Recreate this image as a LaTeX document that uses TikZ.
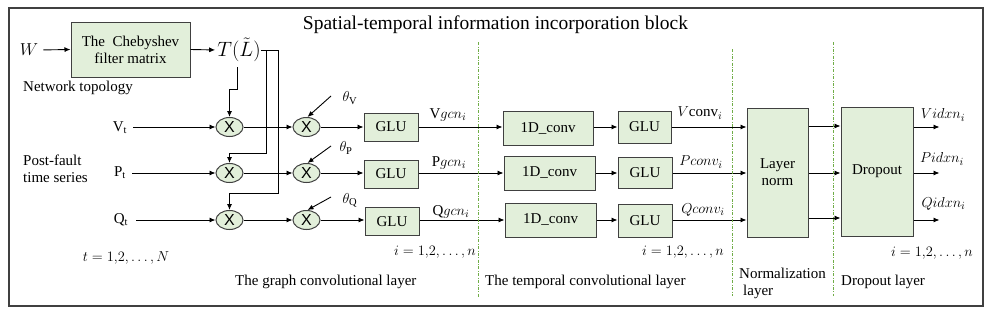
\documentclass[tikz,border=0pt]{standalone}
\usepackage{fontspec}
\setmainfont{Liberation Serif}
\newfontfamily\xsans{Liberation Sans}
\usetikzlibrary{arrows.meta,shapes.geometric}
\definecolor{bgreen}{HTML}{E2EFDA}
\definecolor{bline}{HTML}{404040}
\definecolor{divgreen}{HTML}{70AD47}
\begin{document}
\begin{tikzpicture}[x=1pt,y=-1pt,font=\fontsize{15}{17}\selectfont]
\tikzset{
 blk/.style={draw=bline, fill=bgreen, line width=1pt, inner sep=0pt, align=center},
 mul/.style={ellipse, draw=bline, fill=bgreen, line width=1pt, minimum width=27pt, minimum height=19pt, inner sep=0pt, font=\xsans\fontsize{16}{16}\selectfont},
 arr/.style={-{Latex[length=6pt,width=5pt]}, line width=0.9pt},
 divl/.style={draw=divgreen, line width=0.6pt, dash pattern=on 3pt off 1.5pt on 0.8pt off 1.5pt},
 lbl/.style={inner sep=0pt},
}
\useasboundingbox (0,0) rectangle (992,316);
\draw[bline, line width=1.3pt] (9,8) rectangle (983,306);
\coordinate (yV) at (0,127);
\coordinate (yP) at (0,173);
\coordinate (yQ) at (0,220);

\node[lbl, font=\fontsize{19.5}{22}\selectfont] (title) at (495.5,25) {Spatial-temporal information incorporation block};

% input part
\node[blk, minimum width=119pt, minimum height=55pt] (cheb) at (130.5,49.5) {The\ \ Chebyshev\\filter matrix};
\node[lbl, font=\fontsize{17}{17}\selectfont] (W) at (29,50) {$W$};
\node[lbl, font=\fontsize{20}{20}\selectfont] (T) at (239,50) {$T(\tilde{L})$};
\node[lbl, anchor=west] (net) at (23,88) {Network topology};
\draw[arr, shorten <=5pt] (W.east) -- (cheb.west);
\draw[arr, shorten >=2pt] (cheb.east) -- (T.west);

\node[lbl] (Vt) at (120,128) {V$_{\mathrm{t}}$};
\node[lbl] (Pt) at (120,173) {P$_{\mathrm{t}}$};
\node[lbl] (Qt) at (121,220) {Q$_{\mathrm{t}}$};
\node[lbl, anchor=west, align=left] (pf) at (23,169) {Post-fault\\time series};

\node[mul] (mV1) at (229.5,127) {X};
\node[mul] (mP1) at (229.5,173) {X};
\node[mul] (mQ1) at (229.5,220) {X};
\node[mul] (mV2) at (306.5,127) {X};
\node[mul] (mP2) at (306.5,173) {X};
\node[mul] (mQ2) at (306.5,220) {X};

\draw[arr, shorten <=6pt] (Vt.east |- yV) -- (mV1.west);
\draw[arr, shorten <=6pt] (Pt.east |- yP) -- (mP1.west);
\draw[arr, shorten <=8pt] (Qt.east |- yQ) -- (mQ1.west);

% T connections
\coordinate (tA) at (237,67);
\coordinate (tAb) at (237,89);
\draw[arr] (tA) -- (tAb) -| (mV1.north);
\coordinate (tB) at (278,193);
\draw[arr] (T.east) -| (tB) -| (mQ1.north);
\coordinate (tC) at (266,50);
\coordinate (tCb) at (266,153);
\draw[arr] (tC) -- (tCb) -| (mP1.north);

\draw[arr] (mV1.east) -- (mV2.west);
\draw[arr] (mP1.east) -- (mP2.west);
\draw[arr] (mQ1.east) -- (mQ2.west);

% thetas
\node[lbl] (thV) at (350,98) {$\theta_{\mathrm{V}}$};
\node[lbl] (thP) at (346,148) {$\theta_{\mathrm{P}}$};
\node[lbl] (thQ) at (350,200) {$\theta_{\mathrm{Q}}$};
\coordinate (sV) at (331,96);
\coordinate (sP) at (331,146);
\coordinate (sQ) at (331,197);
\draw[arr] (sV) -- ([xshift=1pt]mV2.north);
\draw[arr] (sP) -- ([xshift=1pt]mP2.north);
\draw[arr] (sQ) -- ([xshift=1pt]mQ2.north);

% GLU1
\node[blk, minimum width=54pt, minimum height=28pt] (gV1) at (391,127) {GLU};
\node[blk, minimum width=54pt, minimum height=28pt] (gP1) at (391,174) {GLU};
\node[blk, minimum width=54pt, minimum height=28pt] (gQ1) at (392,221.5) {GLU};
\draw[arr] (mV2.east) -- (mV2.east -| gV1.west);
\draw[arr] (mP2.east) -- (mP2.east -| gP1.west);
\draw[arr] (mQ2.east) -- (mQ2.east -| gQ1.west);

% 1D conv
\node[blk, minimum width=90pt, minimum height=34pt] (cV) at (548,128.5) {1D\_conv};
\node[blk, minimum width=91pt, minimum height=34pt] (cP) at (549.5,173) {1D\_conv};
\node[blk, minimum width=91pt, minimum height=34pt] (cQ) at (550.5,220) {1D\_conv};
\draw[arr] (gV1.east |- yV) -- (cV.west |- yV);
\draw[arr] (gP1.east |- yP) -- (cP.west |- yP);
\draw[arr] (gQ1.east |- yQ) -- (cQ.west |- yQ);
\node[lbl] (lgV) at (448,115) {V$gcn_i$};
\node[lbl] (lgP) at (449,163) {P$gcn_i$};
\node[lbl] (lgQ) at (451,212) {Q$gcn_i$};

% GLU2
\node[blk, minimum width=53pt, minimum height=32pt] (gV2) at (644.5,127) {GLU};
\node[blk, minimum width=54pt, minimum height=31pt] (gP2) at (645,172.5) {GLU};
\node[blk, minimum width=54pt, minimum height=33pt] (gQ2) at (645,220.5) {GLU};
\draw[arr] (cV.east |- yV) -- (gV2.west |- yV);
\draw[arr] (cP.east |- yP) -- (gP2.west |- yP);
\draw[arr] (cQ.east |- yQ) -- (gQ2.west |- yQ);

% Layer norm
\node[blk, minimum width=61pt, minimum height=129pt] (ln) at (777.5,172.5) {Layer\\norm};
\draw[arr] (gV2.east |- yV) -- (ln.west |- yV);
\draw[arr] (gP2.east |- yP) -- (ln.west |- yP);
\draw[arr] (gQ2.east |- yQ) -- (ln.west |- yQ);
\node[lbl] (lcV) at (700,113) {$V\mathrm{conv}_i$};
\node[lbl] (lcP) at (701,162) {$Pconv_i$};
\node[lbl] (lcQ) at (703,210) {$Qconv_i$};

% Dropout
\node[blk, minimum width=72pt, minimum height=129pt] (dp) at (877,171.5) {Dropout};
\coordinate (yV2) at (0,126);
\coordinate (yQ2) at (0,218);
\draw[arr] (ln.east |- yV2) -- (dp.west |- yV2);
\draw[arr] (ln.east |- yP) -- (dp.west |- yP);
\draw[arr] (ln.east |- yQ2) -- (dp.west |- yQ2);
\draw[arr] (dp.east |- yV) -- ++(26,0);
\draw[arr] (dp.east |- yP) -- ++(26,0);
\draw[arr] (dp.east |- yQ) -- ++(26,0);
\node[lbl] (oV) at (943,115) {$Vidxn_i$};
\node[lbl] (oP) at (942,159) {$Pidxn_i$};
\node[lbl] (oQ) at (943.5,204) {$Qidxn_i$};

% dividers
\draw[divl] (478,42) -- (478,297);
\draw[divl] (732,49) -- (732,296);
\draw[divl] (833,42) -- (833,296);

% bottom labels
\node[lbl] (tr) at (126,258) {$t = 1{,}2, \dots , N$};
\node[lbl] (ir1) at (435,252) {$i = 1{,}2, \dots , n$};
\node[lbl] (ir2) at (683,252) {$i = 1{,}2, \dots , n$};
\node[lbl] (ir3) at (932,253) {$i = 1{,}2, \dots , n$};
\node[lbl, anchor=west] (L1) at (235,282) {The graph convolutional layer};
\node[lbl, anchor=west] (L2) at (485,282) {The temporal convolutional layer};
\node[lbl, anchor=west, align=left] (L3) at (739,283.5) {Normalization\\\hspace*{4pt}layer};
\node[lbl, anchor=west] (L4) at (841,282) {Dropout layer};
\end{tikzpicture}
\end{document}
